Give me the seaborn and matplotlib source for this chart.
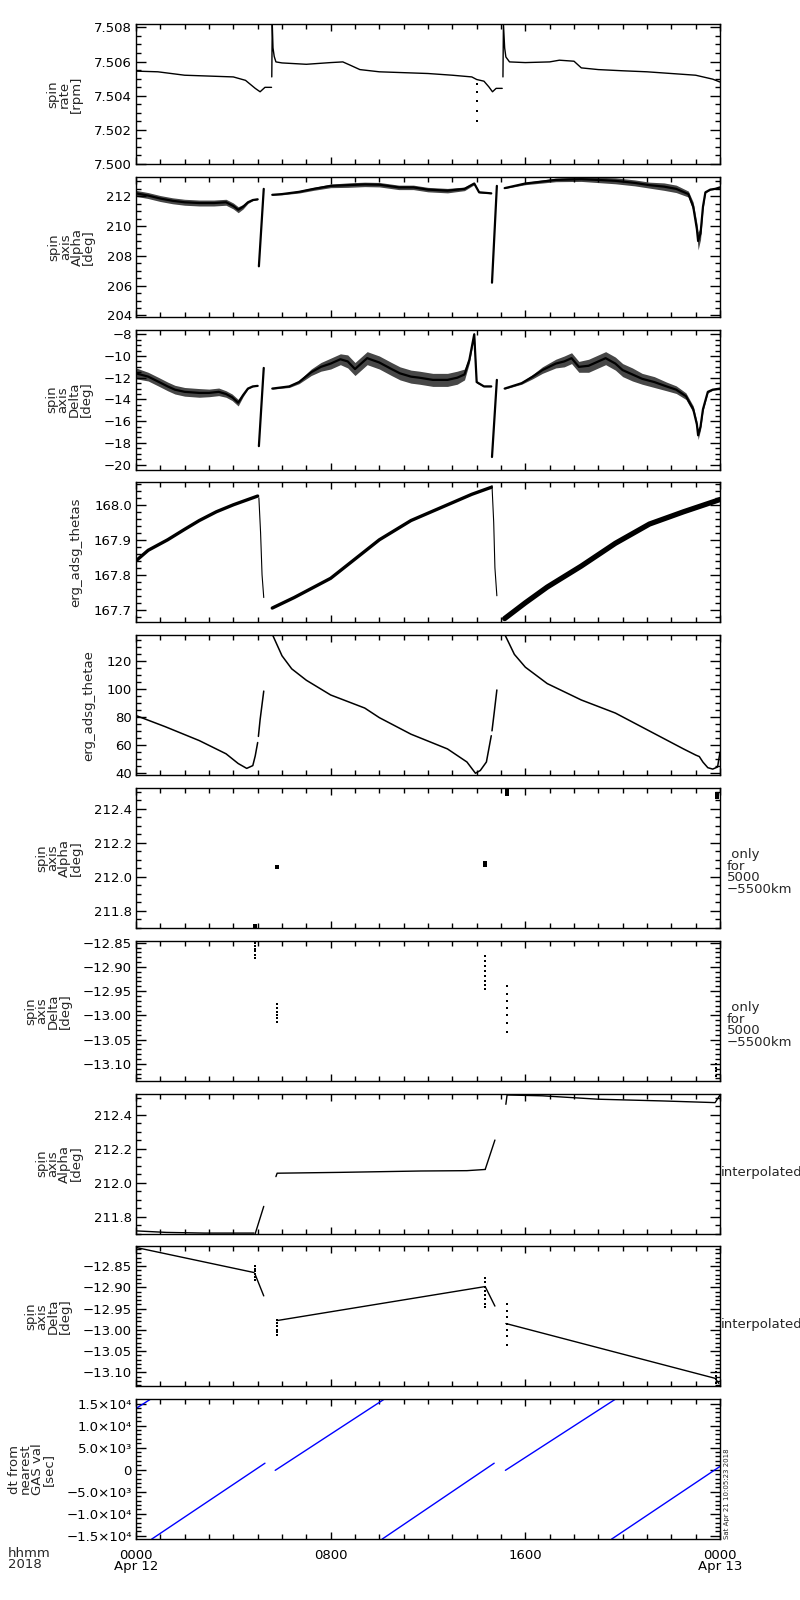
import numpy as np
import seaborn as sns
import matplotlib
matplotlib.use('Agg')
import matplotlib.pyplot as plt
from matplotlib.ticker import MultipleLocator, FuncFormatter, FixedLocator, FixedFormatter

# ---- data (hours since 2018-04-12 00:00) ----
# panel 1: spin rate [rpm]
rate_segs = [
    ([0, 0.9, 2.0, 3.0, 4.0, 4.5, 4.9, 5.1, 5.3, 5.57],
     [7.50544, 7.5054, 7.5052, 7.50515, 7.5051, 7.5049, 7.50443, 7.50423, 7.50449, 7.50449]),
    ([5.58, 5.60, 5.63, 5.68, 5.75, 6.0, 7.0, 8.0, 8.5, 8.8, 9.2, 10.0, 12.0, 13.0, 13.8,
      14.0, 14.3, 14.5, 14.65, 14.8, 15.05],
     [7.5051, 7.5082, 7.5068, 7.5063, 7.50598, 7.50592, 7.50584, 7.50594, 7.50598, 7.50579,
      7.50553, 7.5054, 7.5053, 7.5052, 7.5051, 7.50495, 7.50485, 7.50452, 7.50423, 7.50443, 7.50443]),
    ([15.08, 15.1, 15.15, 15.2, 15.35, 16.0, 17.0, 17.4, 18.0, 18.3, 19.0, 20.0, 21.0, 22.0,
      23.0, 23.7, 24.0],
     [7.5051, 7.5082, 7.5068, 7.50627, 7.50598, 7.50594, 7.50598, 7.50608, 7.50602, 7.50563,
      7.50553, 7.50546, 7.5054, 7.5053, 7.5052, 7.50497, 7.5048]),
]
rate_dots_t = [14.0, 14.0, 14.0, 14.0, 14.0]
rate_dots_v = [7.5047, 7.5042, 7.5037, 7.5031, 7.5025]

# panel 2: spin axis alpha [deg]  (time, value, scatter half-width)
alpha_segs = [
    ([0, 0.5, 1.0, 1.5, 2.0, 2.6, 3.2, 3.7, 4.0, 4.2, 4.4, 4.6, 4.8, 5.0],
     [212.2, 212.05, 211.85, 211.7, 211.6, 211.55, 211.55, 211.6, 211.35, 211.1, 211.3, 211.6, 211.75, 211.8],
     [0.2, 0.2, 0.2, 0.2, 0.2, 0.2, 0.2, 0.2, 0.2, 0.2, 0.15, 0.08, 0.04, 0.03]),
    ([5.05, 5.25], [207.3, 212.5], [0, 0]),
    ([5.6, 6.0, 6.7, 7.3, 8.0, 8.7, 9.4, 10.0, 10.8, 11.4, 12.0, 12.8, 13.5, 13.9, 14.1, 14.6],
     [212.1, 212.15, 212.3, 212.5, 212.7, 212.75, 212.8, 212.78, 212.6, 212.6, 212.45, 212.38, 212.5, 212.86, 212.27, 212.2],
     [0.03, 0.05, 0.08, 0.1, 0.12, 0.15, 0.15, 0.15, 0.15, 0.15, 0.15, 0.15, 0.12, 0.08, 0.04, 0.03]),
    ([14.63, 14.83], [206.2, 212.7], [0, 0]),
    ([15.15, 16.0, 17.25, 18.3, 19.0, 19.7, 20.5, 21.1, 21.7, 22.2, 22.7, 22.9, 23.05, 23.1, 23.2,
      23.3, 23.4, 23.6, 23.8, 24.0],
     [212.55, 212.86, 213.1, 213.15, 213.1, 213.04, 212.9, 212.75, 212.65, 212.5, 212.15, 211.3, 209.8,
      209.0, 209.5, 211.3, 212.27, 212.45, 212.5, 212.6],
     [0.03, 0.08, 0.12, 0.15, 0.18, 0.2, 0.2, 0.2, 0.25, 0.25, 0.2, 0.3, 0.4, 0.6, 0.4, 0.2, 0.05,
      0.03, 0.03, 0.03]),
]

# panel 3: spin axis delta [deg]
delta_segs = [
    ([0, 0.5, 0.95, 1.3, 1.6, 2.0, 2.6, 3.0, 3.4, 3.7, 3.95, 4.2, 4.4, 4.6, 4.8, 5.0],
     [-11.6, -11.9, -12.4, -12.8, -13.1, -13.3, -13.4, -13.4, -13.3, -13.5, -13.8, -14.3, -13.6, -13.0, -12.8, -12.75],
     [0.5, 0.4, 0.4, 0.4, 0.4, 0.4, 0.4, 0.35, 0.35, 0.3, 0.3, 0.3, 0.15, 0.05, 0.03, 0.03]),
    ([5.05, 5.25], [-18.3, -11.1], [0, 0]),
    ([5.6, 6.3, 6.7, 7.2, 7.6, 8.0, 8.4, 8.7, 9.0, 9.5, 10.0, 10.5, 10.85, 11.3, 11.65, 12.2, 12.8,
      13.2, 13.5, 13.7, 13.9, 14.0, 14.3, 14.6],
     [-13.0, -12.8, -12.4, -11.5, -11.0, -10.7, -10.3, -10.5, -11.2, -10.2, -10.6, -11.2, -11.6,
      -11.9, -12.0, -12.2, -12.2, -12.0, -11.7, -10.35, -8.0, -12.4, -12.8, -12.8],
     [0.05, 0.1, 0.15, 0.3, 0.4, 0.5, 0.5, 0.6, 0.6, 0.6, 0.6, 0.6, 0.6, 0.6, 0.6, 0.6, 0.6, 0.6,
      0.5, 0.3, 0.2, 0.1, 0.03, 0.03]),
    ([14.63, 14.83], [-19.3, -12.2], [0, 0]),
    ([15.15, 15.85, 16.3, 16.7, 17.25, 17.6, 17.9, 18.2, 18.6, 18.9, 19.3, 19.7, 20.0, 20.4, 20.8,
      21.3, 21.8, 22.2, 22.6, 22.9, 23.05, 23.1, 23.2, 23.3, 23.5, 23.7, 24.0],
     [-13.0, -12.5, -11.9, -11.3, -10.7, -10.5, -10.2, -11.0, -10.9, -10.6, -10.2, -10.7, -11.3,
      -11.7, -12.1, -12.4, -12.8, -13.1, -13.7, -14.9, -16.3, -17.3, -16.5, -14.9, -13.3, -13.1, -13.0],
     [0.05, 0.1, 0.2, 0.3, 0.4, 0.5, 0.5, 0.5, 0.6, 0.6, 0.6, 0.6, 0.6, 0.6, 0.5, 0.5, 0.4, 0.35,
      0.3, 0.3, 0.3, 0.4, 0.3, 0.2, 0.1, 0.05, 0.05]),
]

# panel 4: erg_adsg_thetas
thetas_segs = [
    ([0, 0.5, 1.3, 2.0, 2.6, 3.3, 4.0, 4.6, 5.0],
     [167.84, 167.87, 167.90, 167.93, 167.955, 167.98, 168.0, 168.015, 168.025], 2.4),
    ([5.05, 5.12, 5.18, 5.25], [168.02, 167.92, 167.80, 167.735], 0.8),
    ([5.6, 6.5, 8.0, 9.0, 10.0, 11.3, 12.8, 13.8, 14.6],
     [167.705, 167.735, 167.79, 167.845, 167.9, 167.955, 168.0, 168.03, 168.05], 2.4),
    ([14.63, 14.7, 14.75, 14.83], [168.055, 167.95, 167.82, 167.74], 0.8),
    ([15.15, 16.0, 16.9, 18.3, 19.7, 21.1, 22.5, 24.0],
     [167.675, 167.72, 167.765, 167.825, 167.89, 167.945, 167.98, 168.015], 3.8),
]

# panel 5: erg_adsg_thetae
thetae_segs = [
    ([0, 1.2, 2.6, 3.7, 4.2, 4.55, 4.8, 4.9, 5.0], [81, 73, 63, 53.5, 46.5, 43, 45, 52, 61.6]),
    ([5.03, 5.1, 5.25], [66, 78, 98.6]),
    ([5.6, 6.0, 6.4, 7.0, 8.0, 9.4, 10.0, 11.3, 12.8, 13.6, 13.95, 14.15, 14.4, 14.6],
     [139.5, 124, 114.6, 106.4, 95.8, 86.4, 79.5, 67.6, 57, 47.6, 39.5, 41.5, 47.6, 66.5]),
    ([14.63, 14.72, 14.83], [70, 83, 99.4]),
    ([15.15, 15.55, 16.0, 16.9, 18.3, 19.7, 21.1, 22.5, 23.0, 23.15, 23.3, 23.5, 23.7, 23.9, 24.0],
     [139.5, 125, 115.8, 104, 92.2, 82.8, 69.9, 57, 52.6, 51.5, 47.5, 43.5, 42.5, 44, 54.6]),
]

# panel 6 / 7: spin axis only for 5000-5500 km
alt_alpha_t = [4.9, 5.78, 14.35, 14.35, 15.23, 15.23, 15.23, 23.87, 23.87]
alt_alpha_v = [211.71, 212.056, 212.072, 212.08, 212.49, 212.505, 212.52, 212.47, 212.49]
alt_delta_t = ([4.9] * 6 + [5.78] * 6 + [14.35] * 8 + [15.23] * 7 + [23.85] * 4)
alt_delta_v = [-12.850, -12.856, -12.862, -12.868, -12.875, -12.882,
               -12.976, -12.984, -12.992, -13.000, -13.006, -13.013,
               -12.878, -12.888, -12.898, -12.908, -12.918, -12.928, -12.938, -12.946,
               -12.94, -12.955, -12.97, -12.985, -13.0, -13.015, -13.035,
               -13.100, -13.108, -13.115, -13.125]

# panel 8 / 9: interpolated spin axis
interp_alpha_segs = [
    ([0, 1.25, 2.8, 4.85], [211.716, 211.707, 211.703, 211.703]),
    ([4.9, 5.25], [211.70, 211.86]),
    ([5.75, 5.8, 8.4, 11.7, 13.6, 14.35], [212.035, 212.055, 212.06, 212.068, 212.07, 212.077]),
    ([14.35, 14.75], [212.077, 212.25]),
    ([15.2, 15.25, 16.7, 19.0, 21.6, 23.8, 24.0], [212.46, 212.515, 212.51, 212.49, 212.48, 212.47, 212.515]),
]
interp_delta_segs = [
    ([0, 4.85], [-12.806, -12.865]),
    ([4.9, 5.25], [-12.87, -12.92]),
    ([5.8, 14.35], [-12.978, -12.898]),
    ([14.35, 14.75], [-12.898, -12.944]),
    ([15.2, 23.8, 23.95], [-12.985, -13.114, -13.126]),
]

# panel 10: dt from nearest GAS val [sec]
dt_segs = [
    ([0, 0.6], [13870, 16000]),
    ([0.64, 5.30], [-15760, 1470]),
    ([5.72, 10.2], [-150, 15980]),
    ([10.11, 14.72], [-15760, 1470]),
    ([15.18, 19.7], [-150, 15980]),
    ([19.54, 24.0], [-15760, 735]),
]
dt_ticks = [-15000, -10000, -5000, 0, 5000, 10000, 15000]
dt_labels = ['\u22121.5\u00d710\u2074', '\u22121.0\u00d710\u2074', '\u22125.0\u00d710\u00b3', '0',
             '5.0\u00d710\u00b3', '1.0\u00d710\u2074', '1.5\u00d710\u2074']

x_ticks = [0, 8, 16, 24]
x_labels = ['0000\nApr 12', '0800', '1600', '0000\nApr 13']

# ---- figure ----
sns.set_style('ticks')
plt.rcParams['font.family'] = ['DejaVu Sans']
plt.rcParams['font.size'] = 9.5
plt.rcParams['axes.linewidth'] = 1.0

fig = plt.figure(figsize=(8, 16), dpi=100)
axes = []
for i in range(10):
    top = 24 + i * 152.8
    axes.append(fig.add_axes([136 / 800, 1 - (top + 140) / 1600, 584 / 800, 140 / 1600]))


def fmt(dec):
    return FuncFormatter(lambda v, p: f'{v:.{dec}f}'.replace('-', '\u2212'))


def style(ax, ylim, major, minor, dec, label):
    ax.set_xlim(0, 24)
    ax.set_ylim(*ylim)
    ax.xaxis.set_major_locator(FixedLocator(x_ticks))
    ax.xaxis.set_minor_locator(MultipleLocator(1))
    ax.set_xticklabels([])
    ax.yaxis.set_major_locator(MultipleLocator(major))
    ax.yaxis.set_minor_locator(MultipleLocator(minor))
    ax.yaxis.set_major_formatter(fmt(dec))
    ax.tick_params(which='both', direction='in', top=True, right=True, width=1, colors='k')
    ax.tick_params(axis='y', which='major', length=7.5, pad=3)
    ax.tick_params(axis='y', which='minor', length=3.8)
    ax.tick_params(axis='x', which='major', length=5)
    ax.tick_params(axis='x', which='minor', length=3.5)
    ax.set_xlabel('')
    ax.set_ylabel(label, linespacing=0.85, labelpad=8)
    for s in ax.spines.values():
        s.set_visible(True)
        s.set_color('k')


def line(ax, t, v, lw=0.9, color='k'):
    sns.lineplot(x=t, y=v, ax=ax, color=color, lw=lw, estimator=None, sort=False)


def band(ax, t, v, w):
    lo = [a - b for a, b in zip(v, w)]
    hi = [a + b for a, b in zip(v, w)]
    ax.fill_between(t, lo, hi, color='k', alpha=0.72, lw=0)
    line(ax, t, v, lw=1.6)


def dots(ax, t, v, s=3):
    sns.scatterplot(x=t, y=v, ax=ax, color='k', s=s, marker='s', linewidth=0)


# 1 spin rate
ax = axes[0]
for t, v in rate_segs:
    line(ax, t, v, lw=1.0)
dots(ax, rate_dots_t, rate_dots_v)
style(ax, (7.500, 7.5082), 0.002, 0.0005, 3, 'spin\nrate\n[rpm]')

# 2 alpha
ax = axes[1]
for t, v, w in alpha_segs:
    band(ax, t, v, w)
style(ax, (203.91, 213.31), 2, 0.5, 0, 'spin\naxis\nAlpha\n[deg]')

# 3 delta
ax = axes[2]
for t, v, w in delta_segs:
    band(ax, t, v, w)
style(ax, (-20.46, -7.57), 2, 0.5, 0, 'spin\naxis\nDelta\n[deg]')

# 4 thetas
ax = axes[3]
for t, v, lw in thetas_segs:
    line(ax, t, v, lw=lw)
style(ax, (167.664, 168.064), 0.1, 0.02, 1, 'erg_adsg_thetas')

# 5 thetae
ax = axes[4]
for t, v in thetae_segs:
    line(ax, t, v, lw=1.1)
style(ax, (38.1, 138.8), 20, 5, 0, 'erg_adsg_thetae')

# 6 alpha only for 5000-5500 km
ax = axes[5]
dots(ax, alt_alpha_t, alt_alpha_v, s=5)
style(ax, (211.70, 212.523), 0.2, 0.05, 1, 'spin\naxis\nAlpha\n[deg]')
ax.text(1.012, 0.40, ' only\nfor\n5000\n\u22125500km', transform=ax.transAxes,
        ha='left', va='center', linespacing=0.85)

# 7 delta only for 5000-5500 km
ax = axes[6]
dots(ax, alt_delta_t, alt_delta_v, s=2.5)
style(ax, (-13.135, -12.846), 0.05, 0.01, 2, 'spin\naxis\nDelta\n[deg]')
ax.text(1.012, 0.40, ' only\nfor\n5000\n\u22125500km', transform=ax.transAxes,
        ha='left', va='center', linespacing=0.85)

# 8 interpolated alpha
ax = axes[7]
for t, v in interp_alpha_segs:
    line(ax, t, v, lw=1.0)
style(ax, (211.70, 212.523), 0.2, 0.05, 1, 'spin\naxis\nAlpha\n[deg]')
ax.text(1.002, 0.44, 'interpolated', transform=ax.transAxes, ha='left', va='center')

# 9 interpolated delta
ax = axes[8]
for t, v in interp_delta_segs:
    line(ax, t, v, lw=1.0)
dots(ax, alt_delta_t, alt_delta_v, s=2.5)
style(ax, (-13.133, -12.8035), 0.05, 0.01, 2, 'spin\naxis\nDelta\n[deg]')
ax.text(1.002, 0.44, 'interpolated', transform=ax.transAxes, ha='left', va='center')

# 10 dt from nearest GAS value
ax = axes[9]
for t, v in dt_segs:
    line(ax, t, v, lw=1.0, color='#0000ff')
style(ax, (-15760, 15980), 5000, 1000, 0, 'dt from\nnearest\nGAS val\n[sec]')
ax.yaxis.set_major_locator(FixedLocator(dt_ticks))
ax.yaxis.set_major_formatter(FixedFormatter(dt_labels))
ax.set_xticks(x_ticks)
ax.set_xticklabels(x_labels)
ax.tick_params(axis='x', which='major', pad=7)
for lab in ax.get_xticklabels():
    lab.set_linespacing(0.85)

fig.text(8 / 800, 1 - 1547 / 1600, 'hhmm\n2018', ha='left', va='top', linespacing=0.85)
fig.text(724 / 800, 1 - 1539 / 1600, 'Sat Apr 21 10:05:23 2018', rotation=90,
         ha='left', va='bottom', fontsize=5)

fig.savefig('out.png', dpi=100)
